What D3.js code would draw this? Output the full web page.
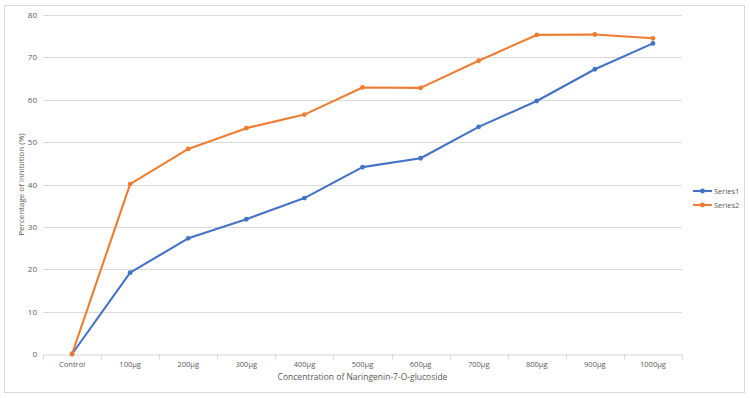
<!DOCTYPE html>
<html>
<head>
<meta charset="utf-8">
<script src="https://cdn.jsdelivr.net/npm/d3@7"></script>
<style>
  body { margin: 0; background: #fff; }
  text { font-family: "Open Sans", "Noto Sans", sans-serif; fill: #595959; }
</style>
</head>
<body>
<div id="chart"></div>
<script>
// data
const categories = ["Control", "100µg", "200µg", "300µg", "400µg", "500µg", "600µg", "700µg", "800µg", "900µg", "1000µg"];
const series1 = [0, 19.2, 27.3, 31.8, 36.8, 44.1, 46.2, 53.6, 59.7, 67.2, 73.3];
const series2 = [0, 40.1, 48.4, 53.3, 56.5, 62.9, 62.8, 69.2, 75.3, 75.4, 74.5];
const seriesNames = ["Series1", "Series2"];
const colors = ["#4472c4", "#ed7d31"];
const yTicks = [0, 10, 20, 30, 40, 50, 60, 70, 80];

const W = 750, H = 398;
const margin = {top: 15, right: 68, bottom: 44, left: 43};
const width = W - margin.left - margin.right;
const height = H - margin.top - margin.bottom;

const svg = d3.select("#chart").append("svg")
  .attr("width", W)
  .attr("height", H);

// outer chart border
svg.append("rect")
  .attr("x", 4.5).attr("y", 5.5)
  .attr("width", 740).attr("height", 387)
  .attr("fill", "none")
  .attr("stroke", "#d9d9d9");

const g = svg.append("g")
  .attr("transform", "translate(" + margin.left + "," + margin.top + ")");

const x = d3.scaleBand().domain(categories).range([0, width]);
const y = d3.scaleLinear().domain([0, 80]).range([height, 0]);

// gridlines
g.append("g")
  .selectAll("line")
  .data(yTicks.filter(d => d > 0))
  .join("line")
  .attr("x1", 0).attr("x2", width)
  .attr("y1", d => Math.round(y(d)) + 0.5).attr("y2", d => Math.round(y(d)) + 0.5)
  .attr("stroke", "#d9d9d9");

// y axis labels
const yAxis = d3.axisLeft(y).tickValues(yTicks).tickSize(0).tickPadding(6);
g.append("g").attr("class", "y-axis").call(yAxis)
  .call(s => s.select(".domain").remove())
  .selectAll("text").attr("font-size", "8px");

// x axis
const xAxis = d3.axisBottom(x).tickSize(0).tickPadding(7);
const xg = g.append("g").attr("class", "x-axis")
  .attr("transform", "translate(0," + (Math.round(height) + 0.5) + ")")
  .call(xAxis);
xg.select(".domain").attr("stroke", "#d9d9d9");
xg.selectAll("text").attr("font-size", "7.5px");
// tick marks between categories
xg.selectAll(".sep")
  .data(d3.range(categories.length + 1))
  .join("line")
  .attr("class", "sep")
  .attr("x1", i => Math.round(i * x.step()) + 0.5)
  .attr("x2", i => Math.round(i * x.step()) + 0.5)
  .attr("y1", 0).attr("y2", 5)
  .attr("stroke", "#d9d9d9");

// axis titles
svg.append("text")
  .attr("x", margin.left + width / 2).attr("y", 380)
  .attr("text-anchor", "middle")
  .attr("font-size", "8.5px")
  .text("Concentration of Naringenin-7-O-glucoside");

svg.append("text")
  .attr("transform", "translate(24," + (margin.top + height / 2) + ") rotate(-90)")
  .attr("text-anchor", "middle")
  .attr("font-size", "8px")
  .text("Percentage of inhibition (%)");

// lines
const allSeries = [series1, series2];
const line = d3.line()
  .x((d, i) => x(categories[i]) + x.bandwidth() / 2)
  .y(d => y(d));

allSeries.forEach((s, k) => {
  g.append("path")
    .datum(s)
    .attr("fill", "none")
    .attr("stroke", colors[k])
    .attr("stroke-width", 2.1)
    .attr("stroke-linejoin", "round")
    .attr("d", line);
  g.selectAll(".pt" + k)
    .data(s)
    .join("circle")
    .attr("cx", (d, i) => x(categories[i]) + x.bandwidth() / 2)
    .attr("cy", d => y(d))
    .attr("r", 2.4)
    .attr("fill", colors[k]);
});

// legend
const legend = svg.append("g").attr("transform", "translate(693,191)");
seriesNames.forEach((name, k) => {
  const row = legend.append("g").attr("transform", "translate(0," + k * 14 + ")");
  row.append("line").attr("x1", 0).attr("x2", 19).attr("y1", 0).attr("y2", 0)
    .attr("stroke", colors[k]).attr("stroke-width", 2.1);
  row.append("circle").attr("cx", 9.5).attr("cy", 0).attr("r", 2.4).attr("fill", colors[k]);
  row.append("text").attr("x", 21).attr("y", 3).attr("font-size", "7.5px").text(name);
});
</script>
</body>
</html>
